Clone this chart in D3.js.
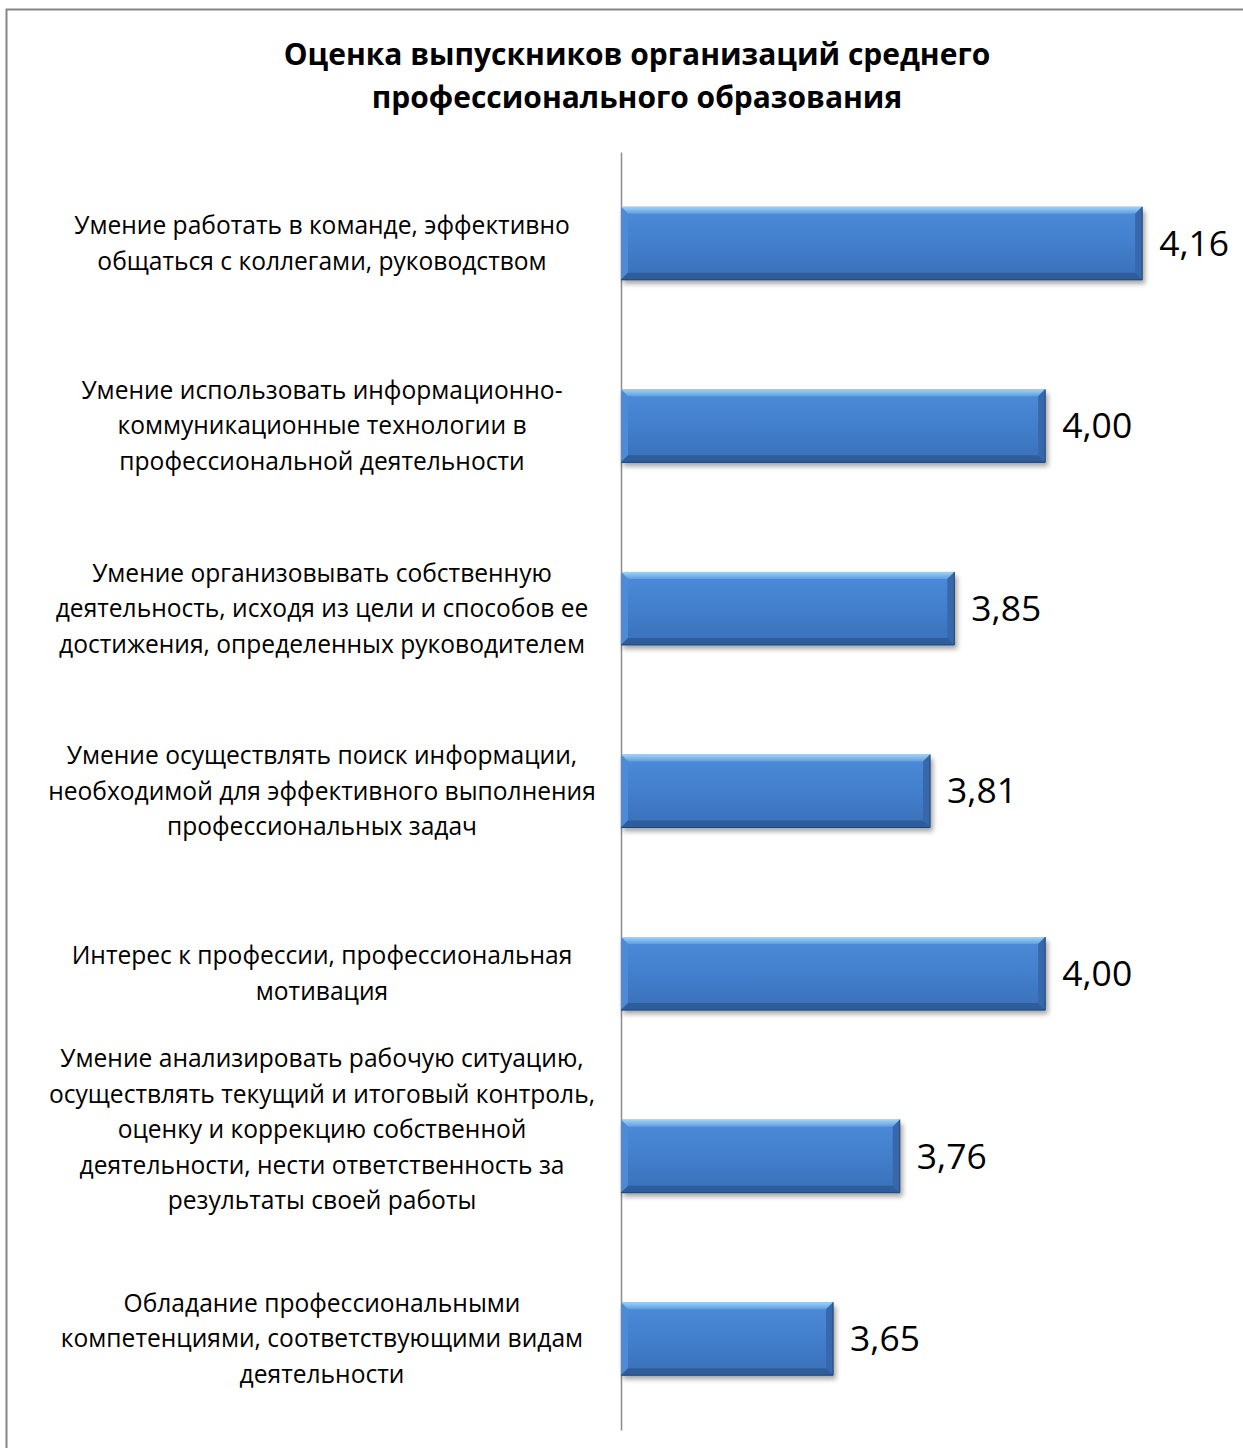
<!doctype html>
<html>
<head>
<meta charset="utf-8">
<script src="https://d3js.org/d3.v7.min.js"></script>
<style>
    body { margin: 0; background: #ffffff; }
    text { font-family: "Open Sans", "DejaVu Sans", sans-serif; fill: #000000; }
</style>
</head>
<body>
<div id="chart"></div>
<script>

    // chart data
    var titleLines = ["Оценка выпускников организаций среднего",
                      "профессионального образования"];

    var categories = [
        ["Умение работать в команде, эффективно", "общаться с коллегами, руководством"],
        ["Умение использовать информационно-", "коммуникационные технологии в", "профессиональной деятельности"],
        ["Умение организовывать собственную", "деятельность, исходя из цели и способов ее", "достижения, определенных руководителем"],
        ["Умение осуществлять поиск информации,", "необходимой для эффективного выполнения", "профессиональных задач"],
        ["Интерес к профессии, профессиональная", "мотивация"],
        ["Умение анализировать рабочую ситуацию,", "осуществлять текущий и итоговый контроль,", "оценку и коррекцию собственной", "деятельности, нести ответственность за", "результаты своей работы"],
        ["Обладание профессиональными", "компетенциями, соответствующими видам", "деятельности"]
    ];

    var values = [4.16, 4.00, 3.85, 3.81, 4.00, 3.76, 3.65];
    var valueLabels = ["4,16", "4,00", "3,85", "3,81", "4,00", "3,76", "3,65"];
    var xDomain = [3.3, 4.3];

    var W = 1243, H = 1448;

    var svg = d3.select("#chart")
        .append("svg")
        .attr("width", W)
        .attr("height", H);

    // outer frame of the chart area
    svg.append("rect")
        .attr("x", 6.5).attr("y", 9.5)
        .attr("width", W + 20).attr("height", H + 20)
        .attr("fill", "none")
        .attr("stroke", "#868686")
        .attr("stroke-width", 2);

    // pick a font size so that a line gets a given width
    function fitSize(txt, weight, target) {
        var t = svg.append("text").attr("font-size", 100)
            .attr("font-weight", weight).text(txt);
        var w = t.node().getComputedTextLength();
        t.remove();
        return 100 * target / w;
    }

    var titleSize = fitSize(titleLines[0], "bold", 707);
    var labelSize = fitSize(categories[3][1], "normal", 548);
    var valueSize = fitSize(valueLabels[0], "normal", 70);

    // title
    svg.append("g").selectAll("text")
        .data(titleLines)
        .enter().append("text")
        .attr("x", 637)
        .attr("y", function(d, i) { return 65 + i * 43; })
        .attr("text-anchor", "middle")
        .attr("font-weight", "bold")
        .attr("font-size", titleSize)
        .text(function(d) { return d; });

    var keys = categories.map(function(d) { return d.join(" "); });

    var xScale = d3.scaleLinear().domain(xDomain).range([621, 1227]);
    var yScale = d3.scaleBand().domain(keys).range([152, 1430])
        .paddingInner(0.6).paddingOuter(0.3);

    var defs = svg.append("defs");
    var grad = defs.append("linearGradient").attr("id", "barGrad")
        .attr("x1", 0).attr("y1", 0).attr("x2", 0).attr("y2", 1);
    [[0, "#4d8cda"], [0.5, "#427fcd"], [1, "#3a70b8"]].forEach(function(s) {
        grad.append("stop").attr("offset", s[0]).attr("stop-color", s[1]);
    });
    var topGrad = defs.append("linearGradient").attr("id", "topGrad")
        .attr("x1", 0).attr("y1", 0).attr("x2", 0).attr("y2", 1);
    [[0, "#9fd3f8"], [1, "#5e9de3"]].forEach(function(s) {
        topGrad.append("stop").attr("offset", s[0]).attr("stop-color", s[1]);
    });
    var shadow = defs.append("filter").attr("id", "shadow")
        .attr("x", "-10%").attr("y", "-20%").attr("width", "130%").attr("height", "160%");
    shadow.append("feGaussianBlur").attr("stdDeviation", 2.5);

    // category axis line
    svg.append("g")
        .attr("transform", "translate(" + xScale(xDomain[0]) + ",0)")
        .call(d3.axisLeft(yScale).tickSize(0).tickSizeOuter(0).tickFormat(""))
        .call(function(g) {
            g.select(".domain").attr("stroke", "#8c8c8c").attr("stroke-width", 1.5);
        });

    var bevel = 7;
    var bar = svg.append("g").selectAll("g")
        .data(values)
        .enter().append("g")
        .attr("transform", function(d, i) {
            return "translate(" + xScale(xDomain[0]) + "," + yScale(keys[i]) + ")";
        });

    var bh = yScale.bandwidth();
    function bw(d) { return xScale(d) - xScale(xDomain[0]); }

    // soft shadow under bar
    bar.append("rect")
        .attr("x", 2).attr("y", 4)
        .attr("width", function(d) { return bw(d) + 1; })
        .attr("height", bh)
        .attr("fill", "#000").attr("opacity", 0.35)
        .attr("filter", "url(#shadow)");

    bar.append("rect")
        .attr("width", bw).attr("height", bh)
        .attr("fill", "url(#barGrad)");

    // bevel edges
    bar.append("polygon")
        .attr("points", function(d) { var w = bw(d);
            return [[0, 0], [w, 0], [w - bevel, bevel], [bevel, bevel]].join(" "); })
        .attr("fill", "url(#topGrad)");
    bar.append("polygon")
        .attr("points", function(d) {
            return [[0, 0], [bevel, bevel], [bevel, bh - bevel], [0, bh]].join(" "); })
        .attr("fill", "#4d8bd7");
    bar.append("polygon")
        .attr("points", function(d) { var w = bw(d);
            return [[w, 0], [w, bh], [w - bevel, bh - bevel], [w - bevel, bevel]].join(" "); })
        .attr("fill", "#3668ab");
    bar.append("polygon")
        .attr("points", function(d) { var w = bw(d);
            return [[0, bh], [w, bh], [w - bevel, bh - bevel], [bevel, bh - bevel]].join(" "); })
        .attr("fill", "#2f5d99");
    bar.append("path")
        .attr("d", function(d) { var w = bw(d);
            return "M" + w + ",0V" + bh + "H0"; })
        .attr("fill", "none").attr("stroke", "#22446e").attr("stroke-width", 1);

    // value labels
    bar.append("text")
        .attr("x", function(d) { return bw(d) + 17; })
        .attr("y", bh / 2)
        .attr("dy", "0.35em")
        .attr("font-size", valueSize)
        .text(function(d, i) { return valueLabels[i]; });

    // category labels (multi line, centred)
    var lineGap = 35.5;
    svg.append("g").selectAll("text")
        .data(categories)
        .enter().append("text")
        .attr("font-size", labelSize)
        .attr("text-anchor", "middle")
        .each(function(lines, i) {
            var cy = yScale(keys[i]) + bh / 2;
            if (lines.length > 4) cy -= lineGap * 0.75;
            var top = cy - (lines.length - 1) * lineGap / 2;
            d3.select(this).selectAll("tspan")
                .data(lines)
                .enter().append("tspan")
                .attr("x", 322)
                .attr("y", function(l, j) { return top + j * lineGap; })
                .attr("dy", "0.35em")
                .text(function(l) { return l; });
        });

</script>
</body>
</html>
